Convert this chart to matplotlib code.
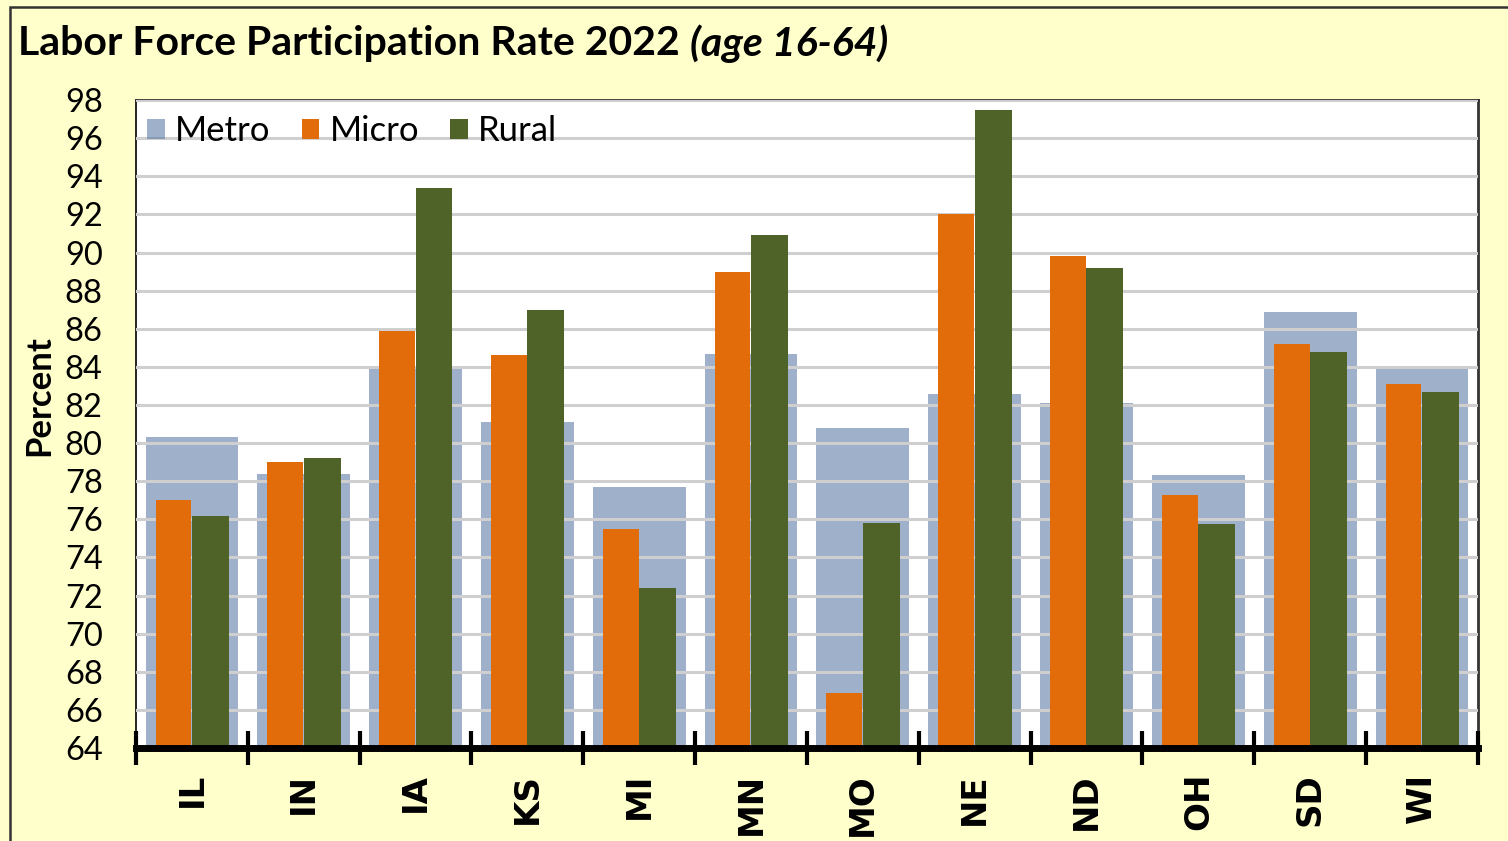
import matplotlib
matplotlib.use("Agg")
import matplotlib.pyplot as plt
import numpy as np
from matplotlib.ticker import FixedLocator
from matplotlib.patches import Rectangle

states = ["IL", "IN", "IA", "KS", "MI", "MN", "MO", "NE", "ND", "OH", "SD", "WI"]
metro = [80.3, 78.4, 84.0, 81.1, 77.7, 84.7, 80.8, 82.6, 82.1, 78.3, 86.9, 83.9]
micro = [77.0, 79.0, 85.9, 84.6, 75.5, 89.0, 66.9, 92.0, 89.8, 77.3, 85.2, 83.1]
rural = [76.2, 79.2, 93.4, 87.0, 72.4, 90.9, 75.8, 97.5, 89.2, 75.75, 84.8, 82.7]
yticks = list(range(64, 99, 2))

plt.rcParams['font.family'] = ['Lato', 'DejaVu Sans']

fig = plt.figure(figsize=(15.08, 8.41), dpi=100)
fig.patch.set_facecolor('#FFFFCC')
fig.patches.append(Rectangle((0.0066, -0.02), 1.02, 1.0117, transform=fig.transFigure,
                             fill=False, edgecolor='#333333', linewidth=1.8))
ax = fig.add_axes([0.0902, 0.1106, 0.8898, 0.7704])
ax.set_facecolor('white')

x = np.arange(len(states))
base = 64
ax.bar(x, np.array(metro) - base, bottom=base, width=0.83, color='#4F6F9F', alpha=0.55,
       label='Metro', zorder=1)
ax.bar(x - 0.165, np.array(micro) - base, bottom=base, width=0.32, color='#E36C0A',
       label='Micro', zorder=3)
ax.bar(x + 0.165, np.array(rural) - base, bottom=base, width=0.33, color='#4F6228',
       label='Rural', zorder=3)

ax.set_ylim(64, 98)
ax.set_xlim(-0.5, len(states) - 0.5)
ax.set_yticks(yticks)
ax.yaxis.grid(True, color='#CFCFCF', linewidth=2.2, zorder=2)
ax.set_axisbelow(False)
for gl in ax.get_ygridlines():
    gl.set_zorder(2)
ax.tick_params(axis='y', length=0, labelsize=23.5, pad=24)

ax.set_xticks(x)
ax.set_xticklabels(states, rotation=90, fontsize=24.5, fontweight='bold',
                   family=['DejaVu Sans'])
ax.tick_params(axis='x', which='major', length=0, pad=18)
ax.xaxis.set_minor_locator(FixedLocator(np.arange(-0.5, len(states), 1.0)))
ax.tick_params(axis='x', which='minor', direction='inout', length=24, width=3, color='black')

ax.spines['bottom'].set_linewidth(5)
ax.spines['bottom'].set_color('black')
ax.spines['bottom'].set_zorder(5)
ax.spines['left'].set_linewidth(1.2)
ax.spines['left'].set_color('black')
ax.spines['top'].set_linewidth(2)
ax.spines['top'].set_color('#333333')
ax.spines['right'].set_linewidth(2)
ax.spines['right'].set_color('#333333')

fig.text(0.026, 0.530, 'Percent', fontsize=25, fontweight='bold', rotation=90,
         ha='center', va='center')

leg = ax.legend(loc='upper left', frameon=False, ncol=3, fontsize=25,
                handlelength=0.5, handleheight=0.55, handletextpad=0.3,
                columnspacing=0.9, borderaxespad=0.0, bbox_to_anchor=(-0.002, 0.998))
leg.legend_handles[0].set_alpha(0.55)

t = fig.text(0.012, 0.948, 'Labor Force Participation Rate 2022 ', fontsize=29.5,
             fontweight='bold', ha='left', va='center')
fig.canvas.draw()
bb = t.get_window_extent()
fig.text(bb.x1 / fig.bbox.width, 0.948, '(age 16-64)', fontsize=29.5,
         fontweight='bold', style='italic', ha='left', va='center')

fig.savefig('out.png', dpi=100, facecolor=fig.get_facecolor())
